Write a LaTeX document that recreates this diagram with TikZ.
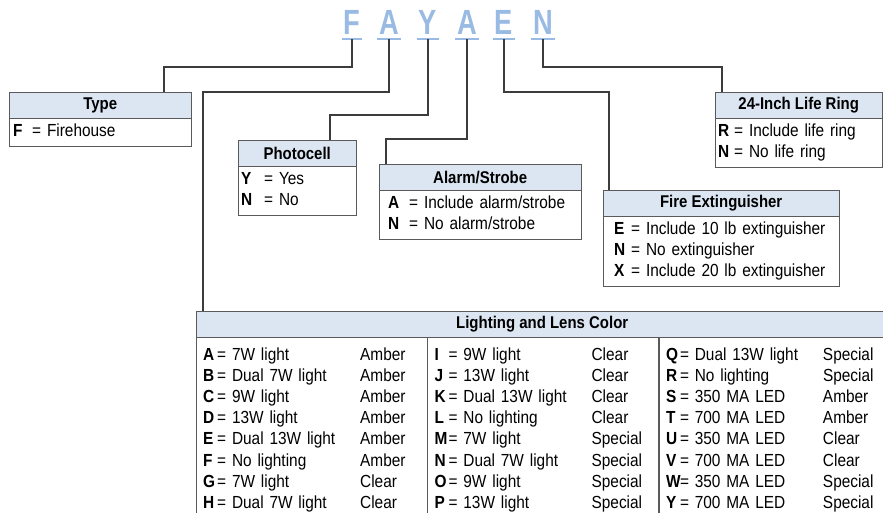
\documentclass[tikz,border=0pt]{standalone}
\usepackage{fontspec}
\setmainfont{Liberation Sans}[FakeStretch=0.88]
\newfontfamily\codefont{Liberation Sans}[FakeStretch=0.78]
\definecolor{codeblue}{HTML}{99BAE2}
\definecolor{headblue}{HTML}{DCE6F2}
\definecolor{wire}{HTML}{3C3C3C}
\definecolor{frame}{HTML}{5A5A5A}
\newcommand\opt[3][18pt]{\strut\makebox[#1][l]{\textbf{#2}}\mbox{= #3}}
\newcommand\lamp[3]{\strut\makebox[14pt][l]{\textbf{#1}}\makebox[143pt][l]{= #2}#3}

\begin{document}
\begin{tikzpicture}[x=1pt,y=-1pt,
 code/.style={anchor=south,inner xsep=1.5pt,inner ysep=4pt,text depth=0pt,text=codeblue,font=\codefont\fontsize{35}{36}\selectfont\bfseries},
 uline/.style={draw=codeblue,line width=2.5pt},
 head/.style={draw=frame,fill=headblue,anchor=north west,minimum height=26pt,inner sep=0pt,font=\fontsize{17}{19}\selectfont\bfseries},
 body/.style={draw=frame,anchor=north west,inner ysep=3pt,align=left,font=\fontsize{17.5}{21.2}\selectfont},
 link/.style={draw=wire,line width=1.2pt}]
\useasboundingbox (0,0) rectangle (883,512);
\clip (0,0) rectangle (883,512);
\node[code] (cF) at (352,39) {F};
\node[code] (cA) at (389,39) {A};
\node[code] (cY) at (428,39) {Y};
\node[code] (cA2) at (467,39) {A};
\node[code] (cE) at (504,39) {E};
\node[code] (cN) at (543,39) {N};
\foreach \c in {cF,cA,cY,cA2,cE,cN}
  \draw[uline] (\c.south west) -- (\c.south east);
\node[head,minimum width=182pt] (type) at (9,92) {Type};
\node[body,inner xsep=4pt,text width=174pt] (typeopts) at (type.south west) {\opt[19pt]{F}{Firehouse}};
\node[head,minimum width=118pt] (photo) at (238,140) {Photocell};
\node[body,inner xsep=3pt,text width=112pt] (photoopts) at (photo.south west) {\opt[23pt]{Y}{Yes}\\\opt[23pt]{N}{No}};
\node[head,minimum width=202pt] (alarm) at (379,164) {Alarm/Strobe};
\node[body,inner xsep=9pt,text width=184pt] (alarmopts) at (alarm.south west) {\opt[21pt]{A}{Include alarm/strobe}\\\opt[21pt]{N}{No alarm/strobe}};
\node[head,minimum width=236pt] (fire) at (603,190) {Fire Extinguisher};
\node[body,inner xsep=11pt,text width=214pt] (fireopts) at (fire.south west) {\opt[17pt]{E}{Include 10 lb extinguisher}\\\opt[17pt]{N}{No extinguisher}\\\opt[17pt]{X}{Include 20 lb extinguisher}};
\node[head,minimum width=167pt] (ring) at (715,92) {24-Inch Life Ring};
\node[body,inner xsep=3pt,text width=161pt] (ringopts) at (ring.south west) {\opt[16pt]{R}{Include life ring}\\\opt[16pt]{N}{No life ring}};
\node[head,minimum width=692pt] (light) at (196,311) {Lighting and Lens Color};
\node[body,inner xsep=7pt,text width=217pt,minimum height=185pt] (lightA) at (light.south west) {\lamp{A}{7W light}{Amber}\\\lamp{B}{Dual 7W light}{Amber}\\\lamp{C}{9W light}{Amber}\\\lamp{D}{13W light}{Amber}\\\lamp{E}{Dual 13W light}{Amber}\\\lamp{F}{No lighting}{Amber}\\\lamp{G}{7W light}{Clear}\\\lamp{H}{Dual 7W light}{Clear}};
\node[body,inner xsep=7pt,text width=217pt,minimum height=185pt] (lightB) at (lightA.north east) {\lamp{I}{9W light}{Clear}\\\lamp{J}{13W light}{Clear}\\\lamp{K}{Dual 13W light}{Clear}\\\lamp{L}{No lighting}{Clear}\\\lamp{M}{7W light}{Special}\\\lamp{N}{Dual 7W light}{Special}\\\lamp{O}{9W light}{Special}\\\lamp{P}{13W light}{Special}};
\node[body,inner xsep=7pt,text width=216pt,minimum height=185pt] (lightC) at (lightB.north east) {\lamp{Q}{Dual 13W light}{Special}\\\lamp{R}{No lighting}{Special}\\\lamp{S}{350 MA LED}{Amber}\\\lamp{T}{700 MA LED}{Amber}\\\lamp{U}{350 MA LED}{Clear}\\\lamp{V}{700 MA LED}{Clear}\\\lamp{W}{350 MA LED}{Special}\\\lamp{Y}{700 MA LED}{Special}};
\draw[link] (cF.south) -- ++(0,28) -| ([xshift=155pt]type.north west);
\draw[link] (cA.south) -- ++(0,53) -| ([xshift=7pt]light.north west);
\draw[link] (cY.south) -- ++(0,76) -| ([xshift=92pt]photo.north west);
\draw[link] (cA2.south) -- ++(0,100) -| ([xshift=7pt]alarm.north west);
\draw[link] (cE.south) -- ++(0,53) -| ([xshift=6pt]fire.north west);
\draw[link] (cN.south) -- ++(0,28) -| ([xshift=7pt]ring.north west);
\end{tikzpicture}
\end{document}
